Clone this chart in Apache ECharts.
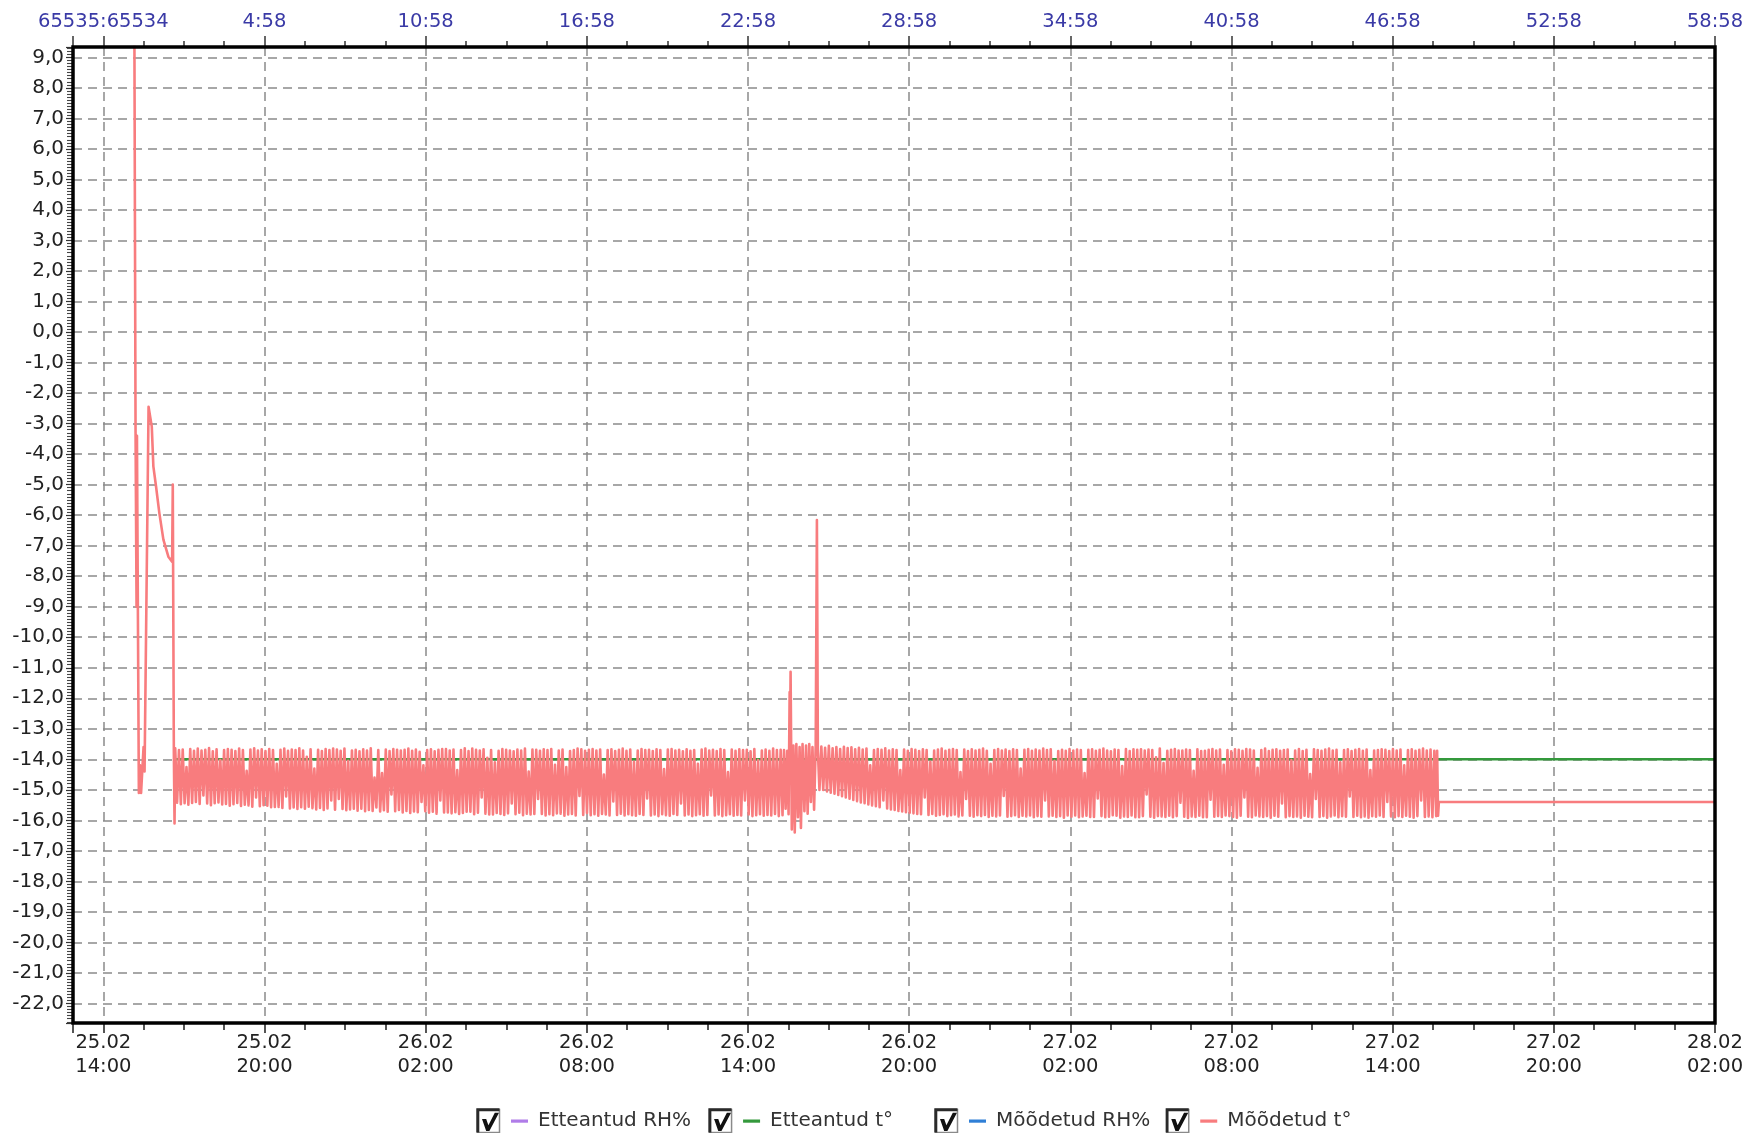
<!DOCTYPE html>
<html>
<head>
<meta charset="utf-8">
<title>Temperatuur</title>
<script src="https://cdn.jsdelivr.net/npm/echarts@6/dist/echarts.min.js"></script>
<style>
  html, body { margin: 0; padding: 0; background: #fff; }
  #chart { width: 1751px; height: 1133px; }
</style>
</head>
<body>
<div id="chart"></div>
<script>
// Time is given in hours after 25.02 14:00.
const X_MIN = -1.13;
const X_MAX = 60;
const Y_MIN = -22.64;
const Y_MAX = 9.34;

// Tick labels every 6 hours (bottom: date/time, top: elapsed time counter)
const bottomTickLabels = [
  '25.02\n14:00', '25.02\n20:00', '26.02\n02:00', '26.02\n08:00', '26.02\n14:00',
  '26.02\n20:00', '27.02\n02:00', '27.02\n08:00', '27.02\n14:00', '27.02\n20:00', '28.02\n02:00'
];
const topTickLabels = [
  '65535:65534', '4:58', '10:58', '16:58', '22:58', '28:58',
  '34:58', '40:58', '46:58', '52:58', '58:58'
];

// Setpoints
const setRH = [];
const setTemp = [[2.65, -14.0], [60, -14.0]];
const measRH = [];

// Measured temperature: pull-down after start-up, [hours, °C]
const startup = [
  [1.150, 11.5], [1.199, -3.3], [1.236, -9.0], [1.251, -3.4], [1.322, -15.1],
  [1.367, -14.2], [1.404, -15.1], [1.497, -13.6], [1.534, -14.4], [1.683, -2.45],
  [1.803, -3.1], [1.862, -4.4], [1.963, -5.07], [2.086, -5.94], [2.235, -6.8],
  [2.421, -7.36], [2.560, -7.53], [2.585, -5.0], [2.625, -13.8], [2.650, -16.1]
];

// Logger samples every 0.07 h: compressor cycling (alternating high / low readings)
const SAMPLE_STEP = 0.07;
const cyclingA_start = 2.675;
const cyclingA = [
  -13.64,-15.42,-13.70,-15.47,-13.68,-15.44,-14.25,-15.49,-13.66,-15.43,-13.72,-15.40,
  -13.65,-15.46,-13.71,-15.18,-13.69,-15.45,-13.63,-15.50,-13.74,-15.44,-13.67,-15.41,
  -14.02,-15.48,-13.70,-15.46,-13.66,-15.52,-13.69,-15.47,-13.73,-15.43,-13.65,-15.53,
  -13.70,-15.49,-14.38,-15.51,-13.68,-15.55,-13.64,-15.25,-13.71,-15.54,-13.67,-15.50,
  -13.73,-15.52,-13.66,-15.57,-13.70,-15.56,-14.15,-15.56,-13.69,-15.59,-13.65,-15.22,
  -13.72,-15.61,-13.68,-15.58,-13.70,-15.63,-13.64,-15.57,-13.71,-15.62,-13.92,-15.55,
  -13.67,-15.60,-14.30,-15.64,-13.69,-15.59,-13.73,-15.66,-13.66,-15.61,-13.70,-15.35,
  -13.65,-15.65,-13.68,-15.30,-13.72,-15.63,-13.65,-15.67,-14.05,-15.64,-13.71,-15.62,
  -13.69,-15.68,-13.74,-15.62,-13.67,-15.70,-13.71,-15.66,-13.64,-15.69,-14.60,-15.58,
  -13.70,-15.71,-14.45,-15.67,-13.68,-15.72,-13.73,-15.15,-13.66,-15.70,-13.69,-15.66,
  -13.71,-15.74,-13.69,-15.69,-13.65,-15.76,-13.72,-15.71,-13.68,-15.73,-13.75,-15.40,
  -14.20,-15.70,-13.70,-15.75,-13.67,-15.72,-13.74,-15.78,-13.69,-15.35,-13.66,-15.74,
  -13.66,-15.74,-13.71,-15.77,-13.68,-15.73,-14.35,-15.79,-13.70,-15.76,-13.64,-15.72,
  -13.73,-15.72,-13.65,-15.80,-13.69,-15.75,-13.71,-15.25,-13.67,-15.78,-13.95,-15.81,
  -13.70,-15.81,-14.10,-15.76,-13.72,-15.79,-13.66,-15.82,-13.69,-15.77,-13.71,-15.45,
  -13.74,-15.80,-13.68,-15.75,-13.71,-15.83,-13.65,-15.78,-14.40,-15.81,-13.68,-15.79,
  -13.69,-15.30,-13.72,-15.79,-13.67,-15.84,-13.70,-15.80,-13.66,-15.83,-14.18,-15.77,
  -13.71,-15.78,-13.68,-15.85,-14.25,-15.81,-13.73,-15.79,-13.70,-15.84,-13.65,-15.20,
  -13.67,-15.82,-13.72,-15.76,-13.69,-15.83,-13.66,-15.80,-13.71,-15.85,-13.68,-15.79,
  -14.50,-15.81,-13.70,-15.84,-13.67,-15.38,-13.73,-15.82,-13.69,-15.78,-13.65,-15.84,
  -13.72,-15.80,-13.68,-15.83,-14.08,-15.85,-13.71,-15.79,-13.66,-15.82,-13.70,-15.28,
  -13.69,-15.84,-13.73,-15.81,-13.67,-15.86,-13.70,-15.80,-14.32,-15.83,-13.68,-15.85,
  -13.66,-15.79,-13.71,-15.82,-13.69,-15.45,-13.74,-15.84,-13.67,-15.81,-13.72,-15.86,
  -13.70,-15.83,-14.15,-15.80,-13.68,-15.85,-13.65,-15.82,-13.71,-15.18,-13.69,-15.84,
  -13.73,-15.81,-13.66,-15.86,-13.70,-15.83,-14.42,-15.80,-13.68,-15.85,-13.72,-15.82,
  -13.67,-15.84,-13.70,-15.35,-13.69,-15.81,-13.74,-15.86,-13.66,-15.83,-14.02,-15.80,
  -13.71,-15.85,-13.68,-15.82,-13.72,-15.84,-13.65,-15.79,-13.70,-15.86,-13.69,-15.83
];

// Door openings on 26.02 afternoon, [hours, °C]
const disturbance = [
  [25.34, -13.70], [25.40, -15.62], [25.46, -13.72], [25.51, -15.80], [25.55, -11.80],
  [25.565, -13.30], [25.585, -11.13], [25.63, -16.30], [25.69, -13.55], [25.74, -16.40],
  [25.80, -13.50], [25.86, -15.90], [25.92, -13.60], [25.97, -16.25], [26.03, -13.50],
  [26.10, -15.70], [26.16, -13.55], [26.22, -15.78], [26.28, -13.50], [26.34, -15.40],
  [26.40, -13.60], [26.46, -15.65], [26.52, -13.55], [26.565, -6.16], [26.60, -13.70],
  [26.66, -15.00]
];

const cyclingB_start = 26.73;
const cyclingB = [
  -13.58,-15.00,-13.62,-15.05,-13.56,-15.09,-13.64,-15.13,-13.60,-15.17,-13.66,-15.21,
  -13.59,-15.25,-13.63,-15.29,-13.61,-15.33,-13.67,-15.37,-13.62,-15.41,-13.68,-15.44,
  -13.65,-15.48,-14.20,-15.51,-13.70,-15.54,-13.66,-15.57,-13.69,-15.35,-13.64,-15.61,
  -13.71,-15.64,-13.67,-15.66,-13.70,-15.69,-14.35,-15.71,-13.68,-15.73,-13.72,-15.75,
  -13.66,-15.77,-13.69,-15.79,-13.73,-15.80,-13.67,-15.25,-13.70,-15.82,-14.08,-15.79,
  -13.71,-15.85,-13.68,-15.82,-13.65,-15.80,-13.72,-15.86,-13.69,-15.83,-13.66,-15.81,
  -13.70,-15.87,-14.42,-15.84,-13.68,-15.30,-13.73,-15.85,-13.67,-15.88,-13.71,-15.83,
  -13.69,-15.86,-13.65,-15.82,-13.72,-15.89,-14.15,-15.85,-13.70,-15.87,-13.66,-15.84,
  -13.71,-15.20,-13.68,-15.88,-13.73,-15.86,-13.67,-15.83,-13.70,-15.89,-14.30,-15.85,
  -13.69,-15.87,-13.66,-15.84,-13.72,-15.90,-13.68,-15.86,-13.71,-15.88,-13.65,-15.35,
  -13.70,-15.87,-13.67,-15.85,-14.05,-15.89,-13.73,-15.86,-13.69,-15.91,-13.72,-15.84,
  -13.66,-15.88,-13.71,-15.84,-13.68,-15.90,-13.70,-15.87,-14.45,-15.85,-13.69,-15.89,
  -13.67,-15.89,-13.72,-15.28,-13.69,-15.86,-13.65,-15.90,-13.71,-15.88,-13.74,-15.83,
  -13.68,-15.85,-13.70,-15.91,-14.22,-15.87,-13.66,-15.89,-13.73,-15.84,-13.67,-15.90,
  -13.69,-15.90,-13.67,-15.86,-13.71,-15.15,-13.68,-15.88,-13.70,-15.91,-13.93,-15.86,
  -13.65,-15.87,-14.12,-15.89,-13.72,-15.85,-13.69,-15.90,-13.66,-15.86,-13.71,-15.42,
  -13.71,-15.88,-13.68,-15.92,-13.70,-15.87,-14.38,-15.89,-13.67,-15.85,-13.73,-15.90,
  -13.72,-15.90,-13.69,-15.32,-13.66,-15.88,-13.71,-15.86,-13.68,-15.89,-14.18,-15.84,
  -13.70,-15.86,-13.74,-15.89,-13.67,-15.91,-13.69,-15.85,-13.72,-15.25,-13.66,-15.88,
  -13.68,-15.90,-13.71,-15.84,-14.28,-15.87,-13.70,-15.89,-13.65,-15.86,-13.73,-15.91,
  -13.69,-15.85,-13.67,-15.88,-13.72,-15.45,-13.70,-15.90,-13.68,-15.86,-14.02,-15.89,
  -13.71,-15.87,-13.66,-15.91,-13.73,-15.85,-13.69,-15.88,-14.48,-15.90,-13.67,-15.30,
  -13.70,-15.89,-13.72,-15.86,-13.68,-15.91,-13.65,-15.87,-13.71,-15.84,-13.69,-15.90,
  -14.10,-15.86,-13.70,-15.88,-13.67,-15.22,-13.73,-15.89,-13.69,-15.85,-13.66,-15.90,
  -13.72,-15.87,-13.68,-15.91,-14.35,-15.86,-13.71,-15.88,-13.70,-15.84,-13.67,-15.89,
  -13.69,-15.40,-13.73,-15.87,-13.66,-15.90,-13.71,-15.86,-13.68,-15.89,-14.20,-15.85,
  -13.70,-15.88,-13.67,-15.91,-13.72,-15.86,-13.69,-15.35,-13.65,-15.89,-13.71,-15.87,
  -13.68,-15.90,-13.72,-15.86
];

// Last cycle, then the logger holds a constant reading
const tail = [[49.655, -13.72], [49.69, -15.85], [49.72, -15.40], [60, -15.40]];

const colors = {
  setRH: '#b07ce8',
  setTemp: '#34993c',
  measRH: '#2f7fd6',
  measTemp: '#f87c7e'
};

const FONT = 'DejaVu Sans';

function samples(start, values) {
  return values.map((v, i) => [start + i * SAMPLE_STEP, v]);
}

const measTemp = [].concat(
  startup,
  samples(cyclingA_start, cyclingA),
  disturbance,
  samples(cyclingB_start, cyclingB),
  tail
);

function labelAt(list, v) {
  const i = Math.round(v / 6);
  return Math.abs(v - i * 6) < 1e-6 && list[i] !== undefined ? list[i] : '';
}

function legendIcon(color) {
  const svg =
    '<svg xmlns="http://www.w3.org/2000/svg" width="57" height="26" viewBox="0 0 57 26">' +
    '<rect x="1.5" y="1.5" width="22" height="23" fill="#fff" stroke="#8a8a8a" stroke-width="1.5"/>' +
    '<path d="M1.8 24.5V1.8H23.5" fill="none" stroke="#2a2a2a" stroke-width="3"/>' +
    '<path d="M6 11h4.2l2.2 6.2 6.4-12.4h4.2l-9.6 18.2h-3.2z" fill="#111"/>' +
    '<rect x="35" y="11.5" width="17" height="3.2" fill="' + color + '"/>' +
    '</svg>';
  return 'image://data:image/svg+xml;charset=utf-8,' + encodeURIComponent(svg);
}

const legendText = { fontFamily: FONT, fontSize: 20, color: '#333' };
const gridLine = { show: true, lineStyle: { type: [9, 6], color: '#8a8a8a', width: 1.5 } };

const chart = echarts.init(document.getElementById('chart'), null, { renderer: 'canvas' });

chart.setOption({
  animation: false,
  backgroundColor: '#fff',
  grid: {
    left: 73, right: 36, top: 47, bottom: 110,
    show: true,
    borderColor: '#000',
    borderWidth: 3.5,
    backgroundColor: 'rgba(0,0,0,0)',
    containLabel: false,
    outerBoundsMode: 'none',
    z: 10
  },
  legend: [
    {
      left: 471, top: 1103, itemGap: 17, itemWidth: 57, itemHeight: 26,
      selectedMode: false, textStyle: legendText,
      data: [
        { name: 'Etteantud RH%', icon: legendIcon(colors.setRH) },
        { name: 'Etteantud t°', icon: legendIcon(colors.setTemp) }
      ]
    },
    {
      left: 929, top: 1103, itemGap: 15, itemWidth: 57, itemHeight: 26,
      selectedMode: false, textStyle: legendText,
      data: [
        { name: 'Mõõdetud RH%', icon: legendIcon(colors.measRH) },
        { name: 'Mõõdetud t°', icon: legendIcon(colors.measTemp) }
      ]
    }
  ],
  xAxis: [
    {
      type: 'value', position: 'bottom',
      min: X_MIN, max: X_MAX, minInterval: 6, maxInterval: 6,
      axisLine: { show: false, onZero: false },
      axisTick: { show: true, length: 10, lineStyle: { color: '#555', width: 2 } },
      minorTick: { show: true, splitNumber: 4, length: 7, lineStyle: { color: '#555', width: 2 } },
      axisLabel: {
        showMinLabel: false, margin: 8,
        fontFamily: FONT, fontSize: 19.5, lineHeight: 24, color: '#222',
        formatter: v => labelAt(bottomTickLabels, v)
      },
      splitLine: gridLine
    },
    {
      type: 'value', position: 'top',
      min: X_MIN, max: X_MAX, minInterval: 6, maxInterval: 6,
      axisLine: { show: false, onZero: false },
      axisTick: { show: true, length: 11, lineStyle: { color: '#666', width: 2 } },
      minorTick: { show: true, splitNumber: 4, length: 6, lineStyle: { color: '#666', width: 2 } },
      axisLabel: {
        showMinLabel: false, margin: 15,
        fontFamily: FONT, fontSize: 19.5, color: '#3a3aa6',
        formatter: v => labelAt(topTickLabels, v)
      },
      splitLine: { show: false }
    }
  ],
  yAxis: {
    type: 'value', position: 'left',
    min: Y_MIN, max: Y_MAX, minInterval: 1, maxInterval: 1,
    axisLine: { show: false, onZero: false },
    axisTick: { show: true, length: 7, lineStyle: { color: '#333', width: 1.2 } },
    minorTick: { show: true, splitNumber: 10, length: 6, lineStyle: { color: '#444', width: 1.1 } },
    axisLabel: {
      showMinLabel: false, showMaxLabel: false, margin: 9,
      fontFamily: FONT, fontSize: 20, color: '#222',
      formatter: v => Math.abs(v - Math.round(v)) < 1e-6 ? v.toFixed(1).replace('.', ',') : ''
    },
    splitLine: gridLine
  },
  series: [
    {
      name: 'Etteantud RH%', type: 'line', data: setRH,
      showSymbol: false, symbol: 'none', color: colors.setRH,
      lineStyle: { width: 2.5, color: colors.setRH }
    },
    {
      name: 'Etteantud t°', type: 'line', data: setTemp,
      showSymbol: false, symbol: 'none', color: colors.setTemp,
      lineStyle: { width: 2.5, color: colors.setTemp }
    },
    {
      name: 'Mõõdetud RH%', type: 'line', data: measRH,
      showSymbol: false, symbol: 'none', color: colors.measRH,
      lineStyle: { width: 2.5, color: colors.measRH }
    },
    {
      name: 'Mõõdetud t°', type: 'line', data: measTemp,
      showSymbol: false, symbol: 'none', color: colors.measTemp, clip: true,
      lineStyle: { width: 2.6, color: colors.measTemp, join: 'round' }
    }
  ]
});
</script>
</body>
</html>
